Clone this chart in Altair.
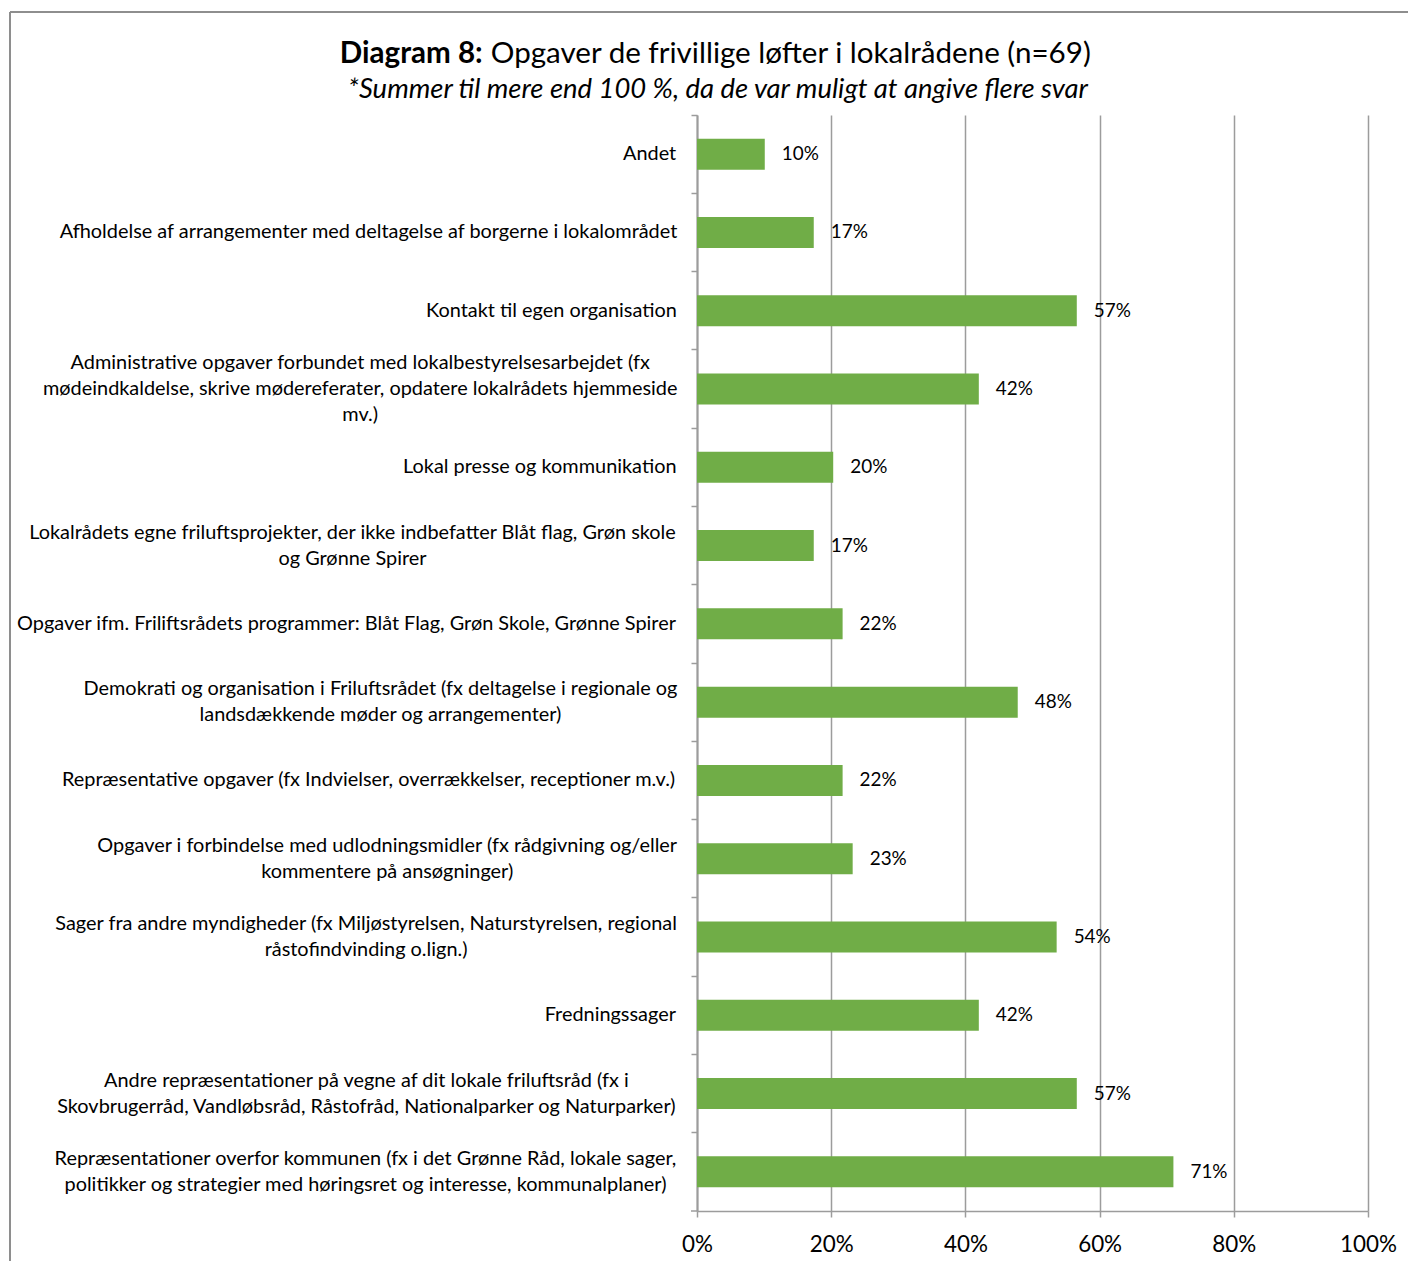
import os
import struct
import altair as alt
import pandas as pd

# ---------------- data ----------------
categories = [
    "Andet",
    "Afholdelse af arrangementer med deltagelse af borgerne i lokalområdet",
    "Kontakt til egen organisation",
    "Administrative opgaver forbundet med lokalbestyrelsesarbejdet (fx\nmødeindkaldelse, skrive mødereferater, opdatere lokalrådets hjemmeside\nmv.)",
    "Lokal presse og kommunikation",
    "Lokalrådets egne friluftsprojekter, der ikke indbefatter Blåt flag, Grøn skole\nog Grønne Spirer",
    "Opgaver ifm. Friliftsrådets programmer: Blåt Flag, Grøn Skole, Grønne Spirer",
    "Demokrati og organisation i Friluftsrådet (fx deltagelse i regionale og\nlandsdækkende møder og arrangementer)",
    "Repræsentative opgaver (fx Indvielser, overrækkelser, receptioner m.v.)",
    "Opgaver i forbindelse med udlodningsmidler (fx rådgivning og/eller\nkommentere på ansøgninger)",
    "Sager fra andre myndigheder (fx Miljøstyrelsen, Naturstyrelsen, regional\nråstofindvinding o.lign.)",
    "Fredningssager",
    "Andre repræsentationer på vegne af dit lokale friluftsråd (fx i\nSkovbrugerråd, Vandløbsråd, Råstofråd, Nationalparker og Naturparker)",
    "Repræsentationer overfor kommunen (fx i det Grønne Råd, lokale sager,\npolitikker og strategier med høringsret og interesse, kommunalplaner)",
]
values = [10.1, 17.4, 56.6, 42.0, 20.3, 17.4, 21.7, 47.8, 21.7, 23.2, 53.6, 42.0, 56.6, 71.0]
tick_values = [0, 20, 40, 60, 80, 100]

title_bold = "Diagram 8:"
title_rest = "Opgaver de frivillige løfter i lokalrådene (n=69)"
subtitle = "*Summer til mere end 100 %, da de var muligt at angive flere svar"

# ---------------- font metrics (for centring multi-line labels) ----------------
def find_font(name):
    roots = ["/usr/share/fonts", "/usr/local/share/fonts",
             os.path.expanduser("~/.fonts"), os.path.expanduser("~/.local/share/fonts")]
    for root in roots:
        if not os.path.isdir(root):
            continue
        for dp, dn, fn in os.walk(root):
            for f in fn:
                if f.lower() == name.lower():
                    return os.path.join(dp, f)
    return None


class Metrics:
    def __init__(self, path):
        self.ok = False
        try:
            data = open(path, "rb").read()
            num = struct.unpack(">H", data[4:6])[0]
            tables = {}
            for i in range(num):
                tag, cs, off, ln = struct.unpack(">4sIII", data[12 + 16 * i:28 + 16 * i])
                tables[tag.decode("latin-1")] = off
            head = tables["head"]
            self.upem = struct.unpack(">H", data[head + 18:head + 20])[0]
            hhea = tables["hhea"]
            nhm = struct.unpack(">H", data[hhea + 34:hhea + 36])[0]
            hmtx = tables["hmtx"]
            self.adv = [struct.unpack(">H", data[hmtx + 4 * i:hmtx + 4 * i + 2])[0] for i in range(nhm)]
            cmap = tables["cmap"]
            n = struct.unpack(">H", data[cmap + 2:cmap + 4])[0]
            sub = None
            for i in range(n):
                pid, eid, off = struct.unpack(">HHI", data[cmap + 4 + 8 * i:cmap + 12 + 8 * i])
                fmt = struct.unpack(">H", data[cmap + off:cmap + off + 2])[0]
                if fmt == 4:
                    sub = cmap + off
                    if pid == 3:
                        break
            segx2 = struct.unpack(">H", data[sub + 6:sub + 8])[0]
            seg = segx2 // 2
            self.ends = struct.unpack(">%dH" % seg, data[sub + 14:sub + 14 + segx2])
            self.starts = struct.unpack(">%dH" % seg, data[sub + 16 + segx2:sub + 16 + 2 * segx2])
            self.deltas = struct.unpack(">%dh" % seg, data[sub + 16 + 2 * segx2:sub + 16 + 3 * segx2])
            self.rpos = sub + 16 + 3 * segx2
            self.roffs = struct.unpack(">%dH" % seg, data[self.rpos:self.rpos + segx2])
            self.data = data
            self.seg = seg
            self.ok = True
        except Exception:
            self.ok = False

    def gid(self, c):
        for i in range(self.seg):
            if self.ends[i] >= c:
                if self.starts[i] > c:
                    return 0
                if self.roffs[i] == 0:
                    return (c + self.deltas[i]) & 0xFFFF
                addr = self.rpos + 2 * i + self.roffs[i] + 2 * (c - self.starts[i])
                g = struct.unpack(">H", self.data[addr:addr + 2])[0]
                return (g + self.deltas[i]) & 0xFFFF if g else 0
        return 0

    def width(self, text, size):
        if not self.ok:
            return len(text) * 0.5 * size
        tot = 0
        for ch in text:
            g = self.gid(ord(ch))
            tot += self.adv[g] if g < len(self.adv) else self.adv[-1]
        return tot / self.upem * size


def load(name):
    p = find_font(name)
    m = Metrics(p) if p else None
    if m is None:
        m = Metrics.__new__(Metrics)
        m.ok = False
    return m


FONT = "Lato"
reg = load("Lato-Regular.ttf")
bold = load("Lato-Bold.ttf")
ital = load("Lato-Italic.ttf")
if not ital.ok:
    ital = reg


def clamp(v, lo, hi):
    return max(lo, min(hi, v))


KERN = 0.99  # rendered text is a little narrower than the raw advance widths (kerning)

# font sizes fitted to the reference's text widths
label_size = clamp(659 / (KERN * reg.width(categories[6], 1)), 15, 20.5)
tick_size_font = clamp(57 / reg.width("100%", 1), 19, 26)
title_size = clamp(755 / (bold.width(title_bold + " ", 1) + reg.width(title_rest, 1)), 24, 30)
sub_size = clamp(745 / ital.width(subtitle, 1), 20, 30)

W, H = 671, 1096
STEP = H / len(categories)
LINE_H = 26
GRAY = "#9C9C9C"

# ---------------- tables ----------------
df = pd.DataFrame({
    "cat": categories,
    "value": values,
    "lbl": [f"{int(v + 0.5)}%" for v in values],
})

# one row per label line, centred as a block to the right edge of the label column
rows = []
for i, c in enumerate(categories):
    lines = c.split("\n")
    maxw = max(KERN * reg.width(line, label_size) for line in lines)
    n = len(lines)
    for k, line in enumerate(lines):
        rows.append({
            "line": line,
            "lx": -21 - maxw / 2,
            "ly": (i + 0.5) * STEP + (k - (n - 1) / 2) * LINE_H,
        })
lines_df = pd.DataFrame(rows)

y_enc = alt.Y("cat:N", sort=categories,
              scale=alt.Scale(paddingInner=0, paddingOuter=0),
              axis=alt.Axis(labels=False, ticks=True, bandPosition=0, tickSize=6,
                            tickColor=GRAY, tickWidth=1.5, domainColor=GRAY,
                            domainWidth=2, grid=False, title=None))

x_enc = alt.X("value:Q", scale=alt.Scale(domain=[0, 100]),
              axis=alt.Axis(values=tick_values, labelExpr="datum.value + '%'",
                            grid=True, gridColor=GRAY, gridWidth=1.5,
                            domainColor=GRAY, domainWidth=1.5, tickColor=GRAY,
                            tickWidth=1.5, tickSize=6, labelFontSize=tick_size_font,
                            labelFont=FONT, labelColor="#000000", labelPadding=16,
                            labelFlush=False, title=None))

base = alt.Chart(df)

bars = base.mark_bar(height=31, color="#70AD47").encode(x=x_enc, y=y_enc)

vals = base.mark_text(align="left", baseline="middle", dx=17, font=FONT,
                      fontSize=min(label_size, 19.5) * 0.97, color="#000000").encode(
    x=x_enc, y=y_enc, text="lbl:N")

one = pd.DataFrame({"a": [0]})
bottom_tick = alt.Chart(one).mark_rule(color=GRAY, strokeWidth=1.5).encode(
    x=alt.value(-6), x2=alt.value(0), y=alt.value(H))

main = alt.layer(bars, vals, bottom_tick)

cat_labels = alt.Chart(lines_df).mark_text(
    align="center", baseline="middle", font=FONT, fontSize=label_size,
    color="#000000").encode(
    x=alt.X("lx:Q", scale=None, axis=None),
    y=alt.Y("ly:Q", scale=None, axis=None),
    text="line:N")

frame_top = alt.Chart(one).mark_rule(color="#8E8E8E", strokeWidth=2).encode(
    x=alt.value(-687), x2=alt.value(760), y=alt.value(-103))
frame_left = alt.Chart(one).mark_rule(color="#8E8E8E", strokeWidth=2).encode(
    x=alt.value(-687), y=alt.value(-103), y2=alt.value(1200))

wb = bold.width(title_bold, title_size)
wsp = reg.width(" ", title_size)
wr = reg.width(title_rest, title_size)
tx0 = 20.5 - (wb + wsp + wr) / 2

t1 = alt.Chart(pd.DataFrame({"t": [title_bold]})).mark_text(
    align="left", baseline="alphabetic", font=FONT, fontSize=title_size,
    fontWeight="bold", color="#000000").encode(
    x=alt.value(tx0), y=alt.value(-52), text="t:N")
t2 = alt.Chart(pd.DataFrame({"t": [title_rest]})).mark_text(
    align="left", baseline="alphabetic", font=FONT, fontSize=title_size,
    color="#000000").encode(
    x=alt.value(tx0 + wb + wsp), y=alt.value(-52), text="t:N")
t3 = alt.Chart(pd.DataFrame({"t": [subtitle]})).mark_text(
    align="center", baseline="alphabetic", font=FONT, fontSize=sub_size,
    fontStyle="italic", color="#000000").encode(
    x=alt.value(21), y=alt.value(-17), text="t:N")

chart = alt.layer(
    main, cat_labels, frame_top, frame_left, t1, t2, t3
).resolve_scale(x="independent", y="independent").properties(
    width=W, height=H,
    autosize=alt.AutoSizeParams(type="none"),
    padding={"left": 689, "top": 107, "right": 40, "bottom": 50},
    background="#FFFFFF",
).configure_view(stroke="transparent")

chart.save("out.html", embed_options={"renderer": "svg", "actions": False})
